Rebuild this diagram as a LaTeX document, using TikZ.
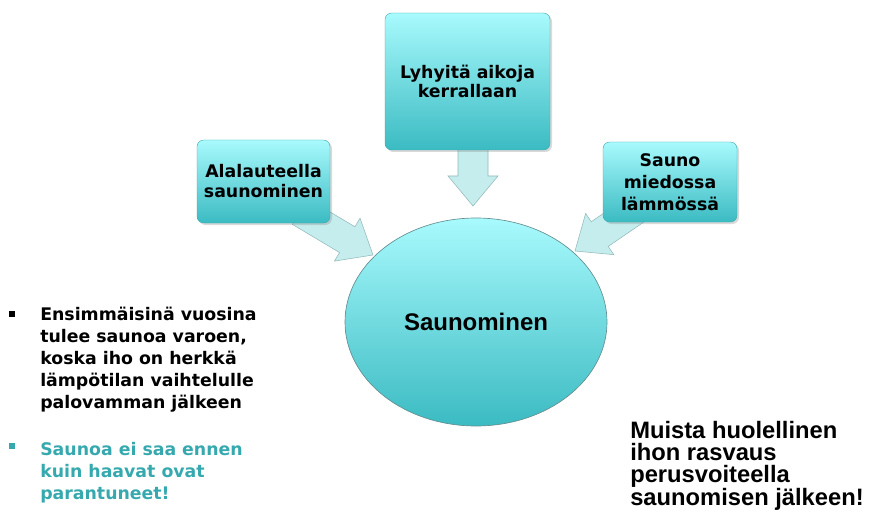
\documentclass[tikz,border=0pt]{standalone}
\usepackage{fontspec}
\setmainfont{DejaVu Sans}
\newfontfamily\arialfont{Liberation Sans}
\usetikzlibrary{shapes.geometric,shadows}

\definecolor{boxtop}{HTML}{A8FAFD}
\definecolor{boxbot}{HTML}{3BBBC2}
\definecolor{boxline}{HTML}{3AA6AB}
\definecolor{arrowfill}{HTML}{C2ECED}
\definecolor{arrowline}{HTML}{93B9BA}
\definecolor{tealtext}{HTML}{36A9AF}

\tikzset{
  topicbox/.style={rounded corners=5pt, top color=boxtop, bottom color=boxbot,
    draw=boxline, line width=0.3pt, align=center, inner sep=0pt,
    drop shadow={opacity=0.3, shadow xshift=1.5pt, shadow yshift=-1.5pt},
    font=\bfseries\fontsize{13}{14}\selectfont},
  hubnode/.style={ellipse, top color=boxtop, bottom color=boxbot,
    draw=gray!60!boxline, line width=0.5pt, inner sep=0pt,
    minimum width=196.5pt, minimum height=156pt,
    font=\arialfont\bfseries\fontsize{18}{20}\selectfont},
  notetext/.style={anchor=north west, inner sep=0pt, align=left},
  bulletmark/.style={rectangle, inner sep=0pt, minimum size=4.5pt},
  pics/bigarrow/.style={code={
    \draw[arrowline, line width=0.4pt, fill=arrowfill, fill opacity=0.95]
      (-#1,-15) -- (-30,-15) -- (-30,-25) -- (0,0) -- (-30,25) -- (-30,15) -- (-#1,15) -- cycle;
  }}
}

\begin{document}
\begin{tikzpicture}[x=0.75pt,y=0.75pt,yscale=-1,xscale=1]
\useasboundingbox (0,0) rectangle (873,513);

% arrows towards the hub (drawn first, tails hide under the boxes)
\pic[rotate=-90] at (473,206) {bigarrow=80};
\pic[rotate=-30.8] at (373,255) {bigarrow=85};
\pic[rotate=-145.6] at (575,251) {bigarrow=75};

% hub
\node[hubnode] (sauna) at (476,322) {Saunominen};

% topic boxes
\node[topicbox, minimum width=123.75pt, minimum height=102.75pt] (lyhyt) at (467.5,81.5)
  {Lyhyitä aikoja\\kerrallaan};
\node[topicbox, minimum width=99.75pt, minimum height=62.25pt,
  font=\bfseries\fontsize{13}{15}\selectfont] (alalaude) at (263.5,181.5)
  {Alalauteella\\saunominen};
\node[topicbox, minimum width=100.5pt, minimum height=60pt,
  font=\bfseries\fontsize{13}{16.5}\selectfont] (miedossa) at (670,182)
  {Sauno\\miedossa\\lämmössä};

% notes on the left
\node[bulletmark, fill=black] (b1) at (11.5,314) {};
\node[notetext, font=\bfseries\fontsize{13}{16.5}\selectfont] (ohje1) at (40,307)
  {Ensimmäisinä vuosina\\tulee saunoa varoen,\\koska iho on herkkä\\lämpötilan vaihtelulle\\palovamman jälkeen};
\node[bulletmark, fill=tealtext] (b2) at (11.5,446) {};
\node[notetext, text=tealtext, font=\bfseries\fontsize{13}{16.5}\selectfont] (ohje2) at (40,442)
  {Saunoa ei saa ennen\\kuin haavat ovat\\parantuneet!};

% note on the right
\node[notetext, font=\arialfont\bfseries\fontsize{17.8}{16.5}\selectfont] (muista) at (630,421)
  {Muista huolellinen\\ihon rasvaus\\perusvoiteella\\saunomisen jälkeen!};

\end{tikzpicture}
\end{document}
